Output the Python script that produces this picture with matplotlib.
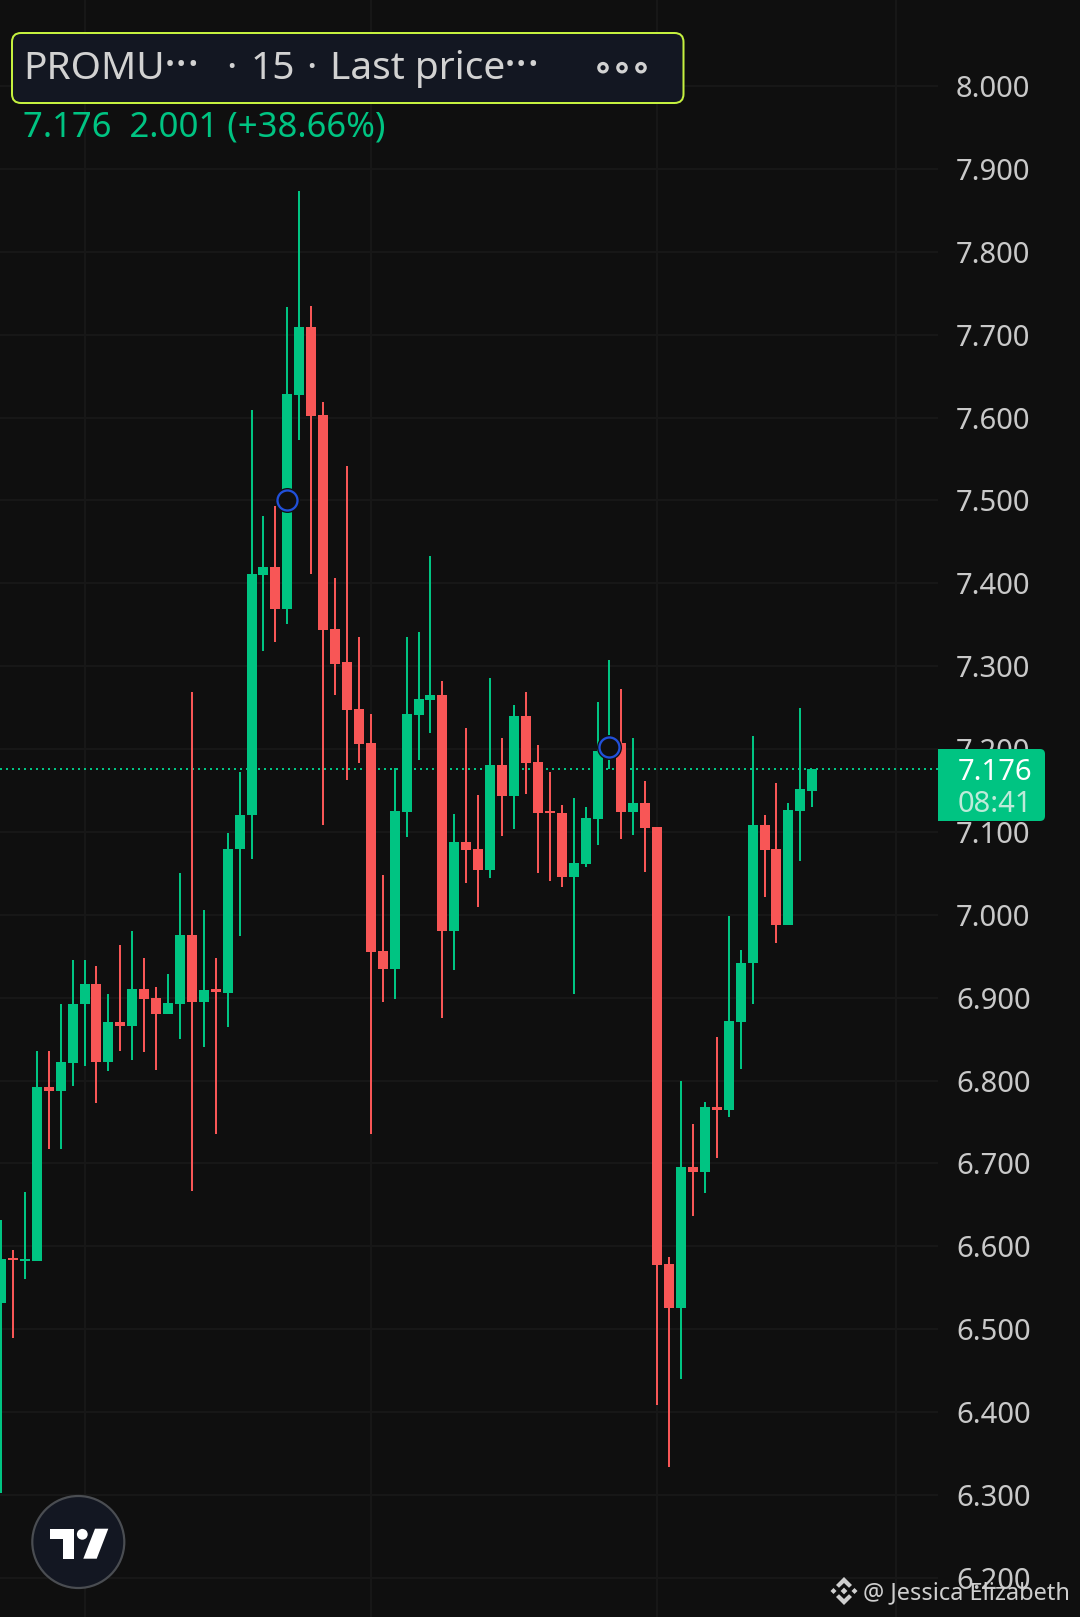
# -*- coding: utf-8 -*-
import matplotlib
matplotlib.use('Agg')
import matplotlib.pyplot as plt
from matplotlib.patches import Circle, FancyBboxPatch, Polygon, Rectangle

plt.rcParams['font.family'] = ['Noto Sans', 'DejaVu Sans']

BG = '#0f0f0f'
GRID = '#171717'
UP = '#00c482'
DOWN = '#f85656'
PANEL = '#131722'
LABEL = '#c9c9c9'

# K线数据
opens = [6.531, 6.586, 6.582, 6.582, 6.792, 6.787, 6.821, 6.892, 6.917, 6.823,
         6.871, 6.866, 6.911, 6.900, 6.880, 6.893, 6.976, 6.895, 6.910, 6.906,
         7.079, 7.120, 7.410, 7.420, 7.369, 7.627, 7.709, 7.603, 7.345, 7.305,
         7.248, 7.207, 6.956, 6.935, 7.124, 7.241, 7.259, 7.265, 6.980, 7.088,
         7.079, 7.054, 7.181, 7.143, 7.240, 7.184, 7.125, 7.123, 7.046, 7.061,
         7.116, 7.195, 7.207, 7.124, 7.135, 7.106, 6.579, 6.525, 6.696, 6.690,
         6.768, 6.764, 6.871, 6.942, 7.108, 7.079, 6.988, 7.125, 7.150]
closes = [6.585, 6.583, 6.585, 6.792, 6.787, 6.822, 6.893, 6.917, 6.823, 6.871,
          6.866, 6.911, 6.899, 6.880, 6.894, 6.976, 6.895, 6.909, 6.907, 7.080,
          7.121, 7.411, 7.420, 7.369, 7.628, 7.709, 7.602, 7.344, 7.303, 7.247,
          7.206, 6.955, 6.935, 7.125, 7.242, 7.260, 7.265, 6.980, 7.088, 7.078,
          7.054, 7.181, 7.143, 7.240, 7.183, 7.123, 7.123, 7.046, 7.062, 7.117,
          7.198, 7.211, 7.124, 7.135, 7.105, 6.578, 6.525, 6.696, 6.690, 6.768,
          6.764, 6.872, 6.942, 7.108, 7.078, 6.988, 7.126, 7.152, 7.176]
highs = [6.632, 6.595, 6.665, 6.836, 6.836, 6.893, 6.945, 6.946, 6.938, 6.905,
         6.964, 6.980, 6.948, 6.913, 6.928, 7.050, 7.269, 7.006, 6.948, 7.099,
         7.172, 7.609, 7.481, 7.493, 7.733, 7.873, 7.735, 7.619, 7.406, 7.542,
         7.335, 7.242, 7.048, 7.177, 7.335, 7.341, 7.433, 7.282, 7.122, 7.225,
         7.145, 7.286, 7.213, 7.253, 7.269, 7.205, 7.172, 7.133, 7.141, 7.130,
         7.257, 7.307, 7.272, 7.213, 7.161, 7.106, 6.587, 6.799, 6.747, 6.774,
         6.853, 6.998, 6.958, 7.216, 7.121, 7.159, 7.135, 7.249, 7.176]
lows = [6.302, 6.489, 6.560, 6.582, 6.718, 6.717, 6.793, 6.818, 6.773, 6.812,
        6.836, 6.825, 6.834, 6.813, 6.880, 6.850, 6.667, 6.840, 6.735, 6.865,
        6.974, 7.067, 7.318, 7.329, 7.351, 7.573, 7.411, 7.108, 7.265, 7.163,
        7.183, 6.735, 6.895, 6.898, 7.094, 7.187, 7.219, 6.875, 6.933, 7.038,
        7.009, 7.044, 7.095, 7.104, 7.146, 7.050, 7.041, 7.034, 6.904, 7.058,
        7.084, 7.176, 7.091, 7.096, 7.052, 6.409, 6.334, 6.440, 6.636, 6.664,
        6.707, 6.756, 6.814, 6.893, 7.021, 6.966, 6.988, 7.065, 7.130]

price_ticks = [6.2, 6.3, 6.4, 6.5, 6.6, 6.7, 6.8, 6.9, 7.0, 7.1, 7.2, 7.3,
               7.4, 7.5, 7.6, 7.7, 7.8, 7.9, 8.0]
time_ticks = [7, 31, 55, 75]
last_price = 7.176
marker_x = [24, 51]
marker_y = [7.5, 7.2025]

W, H = 1080, 1617
STEP = 11.93      # 每根K线的像素宽度
PX_PER_UNIT = 828.7
PANE = 938        # 右侧价格轴起点
px = 72 / 100     # 1像素对应的磅数

fig = plt.figure(figsize=(W / 100, H / 100), dpi=100, facecolor=BG)
ax = fig.add_axes([0, 0, PANE / W, 1], facecolor=BG)
ax.set_xlim(-1 / STEP, (PANE - 1) / STEP)
ax.set_ylim(7.9 - (H - 169) / PX_PER_UNIT, 7.9 + 169 / PX_PER_UNIT)

for s in ax.spines.values():
    s.set_visible(False)
ax.set_xticks(time_ticks)
ax.set_xticklabels([])
ax.set_yticks(price_ticks)
ax.set_yticklabels([f'{p:.3f}' for p in price_ticks])
ax.yaxis.tick_right()
ax.tick_params(axis='both', length=0)
ax.tick_params(axis='y', pad=18 * px, labelsize=21, labelcolor=LABEL)
ax.grid(True, color=GRID, lw=2 * px)
ax.set_axisbelow(True)

# 最新价虚线
ax.axhline(last_price, color=UP, lw=2 * px, dashes=(1, 2), dash_capstyle='butt', zorder=1.5)

# 蜡烛
x = list(range(len(opens)))
colors = [UP if c >= o else DOWN for o, c in zip(opens, closes)]
ax.vlines(x, lows, highs, colors=colors, lw=2 * px, zorder=2)
ax.bar(x, [abs(c - o) for o, c in zip(opens, closes)],
       bottom=[min(o, c) for o, c in zip(opens, closes)],
       width=10 / STEP, color=colors, lw=0, zorder=3)

# 蓝色圆圈标记
ax.plot(marker_x, marker_y, ls='', marker='o', ms=25 * px, mfc=BG, mec='none', zorder=4)
ax.plot(marker_x, marker_y, ls='', marker='o', ms=20 * px, mfc=BG, mec='#2150d9',
        mew=2.3 * px, zorder=5)

# 覆盖层，使用像素坐标
ov = fig.add_axes([0, 0, 1, 1], zorder=10)
ov.set_xlim(0, W)
ov.set_ylim(H, 0)
ov.axis('off')

# 顶部标题框
ov.add_patch(FancyBboxPatch((12, 33), 671.5, 70, boxstyle='round,pad=0,rounding_size=9',
                            fc=PANEL, ec='#c5f13f', lw=2 * px))
hdr = dict(color='#d2d2d2', fontsize=28, fontweight='light', va='baseline', ha='left')
ov.text(23, 79, 'PROMU', **hdr)
ov.text(164, 79, '\u00b7\u00b7\u00b7', color='#d2d2d2', fontsize=33, fontweight='light',
        va='baseline', ha='left')
ov.text(226, 79, '\u00b7', color='#d2d2d2', fontsize=28, fontweight='bold', va='baseline', ha='left')
ov.text(251, 79, '15', **hdr)
ov.text(306, 79, '\u00b7', color='#d2d2d2', fontsize=28, fontweight='bold', va='baseline', ha='left')
ov.text(330, 79, 'Last price', **hdr)
ov.text(504, 79, '\u00b7\u00b7\u00b7', color='#d2d2d2', fontsize=33, fontweight='light',
        va='baseline', ha='left')
for cx in [603, 622, 641]:
    ov.add_patch(Circle((cx, 67.7), 4.2, fc='none', ec='#d2d2d2', lw=3.2 * px))
ov.text(23, 136, f'{last_price:.3f}  2.001 (+38.66%)', color=UP, fontsize=25,
        fontweight='light', va='baseline', ha='left')

# 最新价标签
ov.add_patch(Rectangle((938, 749), 60, 72, fc=UP, ec='none'))
ov.add_patch(FancyBboxPatch((945, 749), 100, 72, boxstyle='round,pad=0,rounding_size=5',
                            fc=UP, ec='none'))
ov.text(958, 780, f'{last_price:.3f}', color='white', fontsize=21, va='baseline', ha='left')
ov.text(958, 812, '08:41', color='#bdebd9', fontsize=21, fontweight='light',
        va='baseline', ha='left')

# TradingView 图标
ov.add_patch(Circle((78.3, 1542), 46, fc=PANEL, ec='#4a4d52', lw=2.2 * px))
ov.add_patch(Polygon([(50, 1528.7), (74, 1528.7), (74, 1558.7), (63.3, 1558.7),
                      (63.3, 1539.3), (50, 1539.3)], fc='white', ec='none'))
ov.add_patch(Circle((82.3, 1534.3), 5.4, fc='white', ec='none'))
ov.add_patch(Polygon([(95, 1528.7), (108.3, 1528.7), (96.7, 1558.7), (83.3, 1558.7)],
                     fc='white', ec='none'))

# 水印
WM = '#cfcfcf'
ov.text(863, 1599, '@ Jessica Elizabeth', color=WM, fontsize=17, va='baseline', ha='left')
bx, by = 844, 1591
ov.add_patch(Polygon([(bx, by - 3.4), (bx + 3.4, by), (bx, by + 3.4), (bx - 3.4, by)], fc=WM, ec='none'))
ov.add_patch(Polygon([(bx - 13.5, by), (bx - 10.5, by - 3), (bx - 7.5, by), (bx - 10.5, by + 3)], fc=WM, ec='none'))
ov.add_patch(Polygon([(bx + 13.5, by), (bx + 10.5, by - 3), (bx + 7.5, by), (bx + 10.5, by + 3)], fc=WM, ec='none'))
ov.add_patch(Polygon([(bx, by - 14), (bx + 8, by - 6), (bx + 5, by - 3.2), (bx, by - 8), (bx - 5, by - 3.2), (bx - 8, by - 6)], fc=WM, ec='none'))
ov.add_patch(Polygon([(bx, by + 14), (bx + 8, by + 6), (bx + 5, by + 3.2), (bx, by + 8), (bx - 5, by + 3.2), (bx - 8, by + 6)], fc=WM, ec='none'))

fig.savefig('out.png', dpi=100, facecolor=BG)
